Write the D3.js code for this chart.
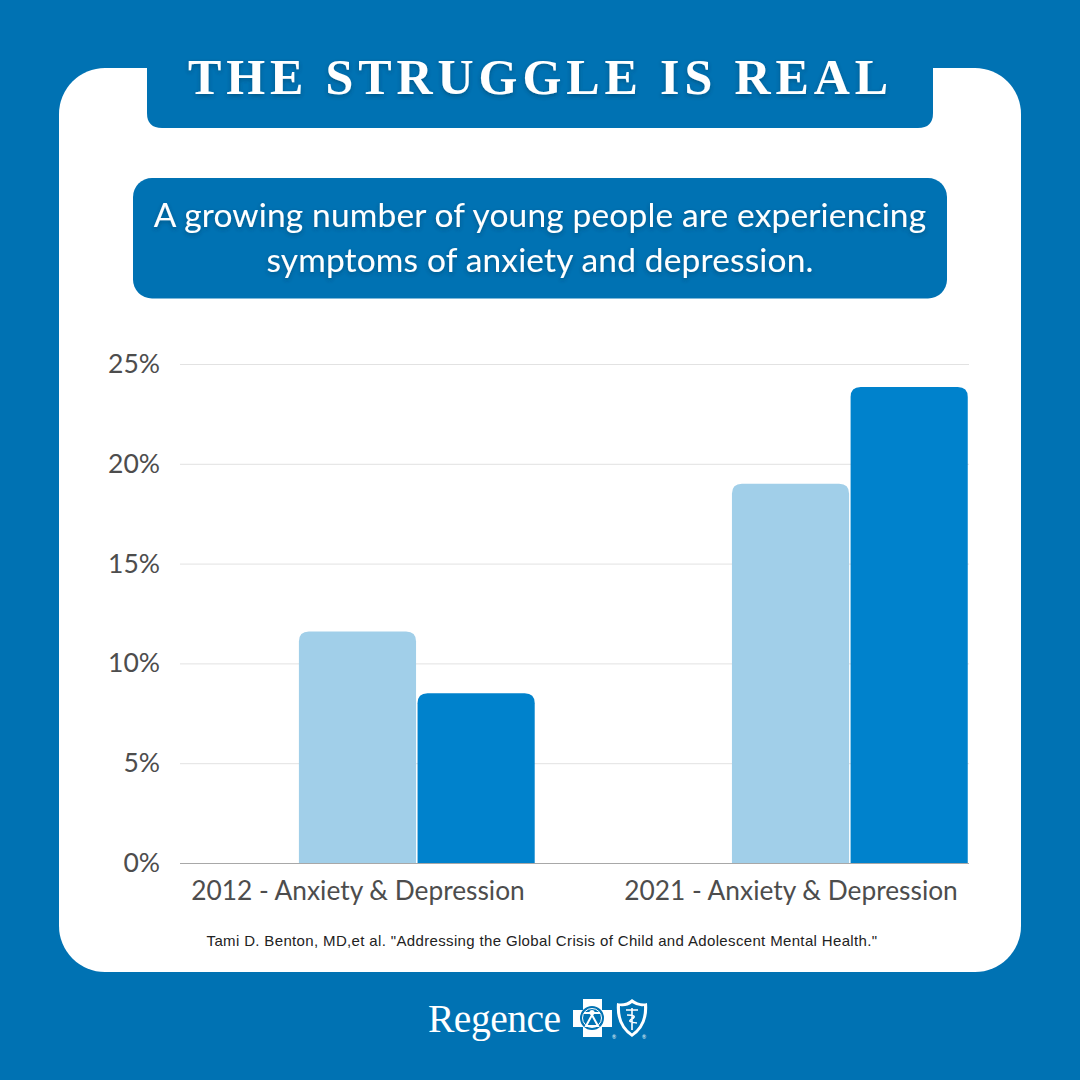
<!DOCTYPE html>
<html>
<head>
<meta charset="utf-8">
<script src="https://cdn.jsdelivr.net/npm/d3@7"></script>
<style>
  html, body { margin: 0; padding: 0; background: #0072b3; }
  svg { display: block; }
  text { font-family: "Lato", "Open Sans", sans-serif; }
  .domain { display: none; }
</style>
</head>
<body>
<svg id="chart" width="1080" height="1080"></svg>
<script>
var categories = ['2012 - Anxiety & Depression', '2021 - Anxiety & Depression'];
// the first series is empty in the original, it only pushes the bars to the right
var seriesNames = ['blank', 'first', 'second'];
var blankValues = [0, 0];
var firstValues = [11.6, 19.0];
var secondValues = [8.5, 23.85];
var yTicks = [0, 5, 10, 15, 20, 25];
var titleText = 'THE STRUGGLE IS REAL';
var subtitleLines = ['A growing number of young people are experiencing', 'symptoms of anxiety and depression.'];
var sourceText = 'Tami D. Benton, MD,et al. "Addressing the Global Crisis of Child and Adolescent Mental Health."';

var blue = '#0072b3';
var colors = { blank: 'none', first: '#a1cfe9', second: '#0082cc' };
var valuesBySeries = { blank: blankValues, first: firstValues, second: secondValues };

var svg = d3.select('#chart');

var defs = svg.append('defs');
var shadow = defs.append('filter').attr('id', 'soft').attr('x', '-5%').attr('y', '-20%').attr('width', '110%').attr('height', '140%');
shadow.append('feDropShadow').attr('dx', 0).attr('dy', 2).attr('stdDeviation', 2).attr('flood-color', '#00304f').attr('flood-opacity', 0.45);

// background card and banners
svg.append('rect').attr('x', 59).attr('y', 68).attr('width', 962).attr('height', 904).attr('rx', 46).attr('fill', '#fff');
svg.append('path')
  .attr('d', 'M147,60 H933 V113 Q933,128 918,128 H162 Q147,128 147,113 Z')
  .attr('fill', blue);
svg.append('rect').attr('x', 133).attr('y', 178).attr('width', 814).attr('height', 120.5).attr('rx', 19).attr('fill', blue);

svg.append('text')
  .attr('x', 540.5).attr('y', 94)
  .attr('text-anchor', 'middle')
  .attr('fill', '#fff')
  .attr('filter', 'url(#soft)')
  .style('font-family', '"Liberation Serif", serif')
  .style('font-weight', 700)
  .style('font-size', '50px')
  .style('letter-spacing', '4.9px')
  .text(titleText);

svg.selectAll('.sub')
  .data(subtitleLines)
  .join('text')
  .attr('class', 'sub')
  .attr('x', 540)
  .attr('y', function(d, i) { return 226.5 + i * 45; })
  .attr('text-anchor', 'middle')
  .attr('fill', '#fff')
  .attr('filter', 'url(#soft)')
  .style('font-size', '33.5px')
  .style('letter-spacing', '0.15px')
  .text(function(d) { return d; });

// scales
var x0 = d3.scaleBand().domain(categories).range([180, 969]).paddingInner(0.178).paddingOuter(0);
var x1 = d3.scaleBand().domain(seriesNames).range([0, x0.bandwidth()]);
var y = d3.scaleLinear().domain([0, 25]).range([863, 364]);

// y axis and grid
var yAxis = svg.append('g')
  .attr('transform', 'translate(180,0)')
  .call(d3.axisLeft(y).tickValues(yTicks).tickSize(-789).tickPadding(20).tickFormat(function(d) { return d + '%'; }));
yAxis.selectAll('line').attr('stroke', function(d) { return d === 0 ? '#a8a8a8' : '#e2e2e2'; }).attr('stroke-width', 1);
yAxis.selectAll('text').attr('fill', '#4d4d4d').style('font-size', '26.5px').style('font-family', '"Lato", sans-serif');

// bars, rounded at the top only
function barPath(x, w, top, bottom, r) {
  var p = d3.path();
  var h = Math.min(r, bottom - top);
  p.moveTo(x, bottom);
  p.lineTo(x, top + h);
  p.quadraticCurveTo(x, top, x + h, top);
  p.lineTo(x + w - h, top);
  p.quadraticCurveTo(x + w, top, x + w, top + h);
  p.lineTo(x + w, bottom);
  p.closePath();
  return p.toString();
}

var barData = [];
seriesNames.forEach(function(name) {
  categories.forEach(function(cat, i) {
    barData.push({ name: name, cat: cat, value: valuesBySeries[name][i] });
  });
});

svg.append('g').selectAll('path')
  .data(barData.filter(function(d) { return d.value > 0; }))
  .join('path')
  .attr('d', function(d) {
    return barPath(x0(d.cat) + x1(d.name) + 0.25, x1.bandwidth() - 1.5, y(d.value), y(0), 10);
  })
  .attr('fill', function(d) { return colors[d.name]; });

// x axis
var xAxis = svg.append('g')
  .attr('transform', 'translate(0,863)')
  .call(d3.axisBottom(x0).tickSize(0).tickPadding(18));
xAxis.selectAll('text').attr('fill', '#4d4d4d').style('font-size', '26.3px').style('font-family', '"Lato", sans-serif');

svg.append('text')
  .attr('x', 542).attr('y', 946)
  .attr('text-anchor', 'middle')
  .attr('fill', '#222')
  .style('font-family', '"Liberation Sans", sans-serif')
  .style('font-size', '15px')
  .style('letter-spacing', '0.35px')
  .text(sourceText);

// logo
var logo = svg.append('g');
logo.append('text')
  .attr('x', 428).attr('y', 1032)
  .attr('fill', '#fff')
  .style('font-family', '"Liberation Serif", serif')
  .style('font-size', '39.5px')
  .style('letter-spacing', '-0.5px')
  .text('Regence');

// cross
logo.append('path')
  .attr('d', 'M583,999 H602 V1010 H612 V1027 H602 V1037 H583 V1027 H573 V1010 H583 Z')
  .attr('fill', '#fff');
logo.append('circle').attr('cx', 592).attr('cy', 1018).attr('r', 12).attr('fill', blue);
logo.append('circle').attr('cx', 592).attr('cy', 1018).attr('r', 9.5).attr('fill', 'none').attr('stroke', '#fff').attr('stroke-width', 1);
logo.append('circle').attr('cx', 592).attr('cy', 1012.5).attr('r', 2.6).attr('fill', '#fff');
logo.append('path').attr('d', 'M592,1015 L598,1026 H586 Z M584,1013 L600,1013').attr('fill', 'none').attr('stroke', '#fff').attr('stroke-width', 2);

// shield
logo.append('path')
  .attr('d', 'M617,1003 Q625,1005 632,999 Q640,1005 647,1003 Q649,1026 632,1037 Q615,1026 617,1003 Z')
  .attr('fill', '#fff');
logo.append('path')
  .attr('d', 'M620,1006 Q627,1007 632,1003 Q638,1007 644,1006 Q645,1024 632,1033.5 Q619,1024 620,1006 Z')
  .attr('fill', blue);
logo.append('path')
  .attr('d', 'M626,1010 H638 M632,1008 V1030 M627,1015 Q638,1015 632,1019 Q626,1022 637,1023')
  .attr('fill', 'none').attr('stroke', '#fff').attr('stroke-width', 1.6);
logo.selectAll('.reg')
  .data([612, 642])
  .join('text')
  .attr('class', 'reg')
  .attr('x', function(d) { return d; })
  .attr('y', 1039)
  .attr('fill', '#fff')
  .style('font-size', '5px')
  .text('®');
</script>
</body>
</html>
